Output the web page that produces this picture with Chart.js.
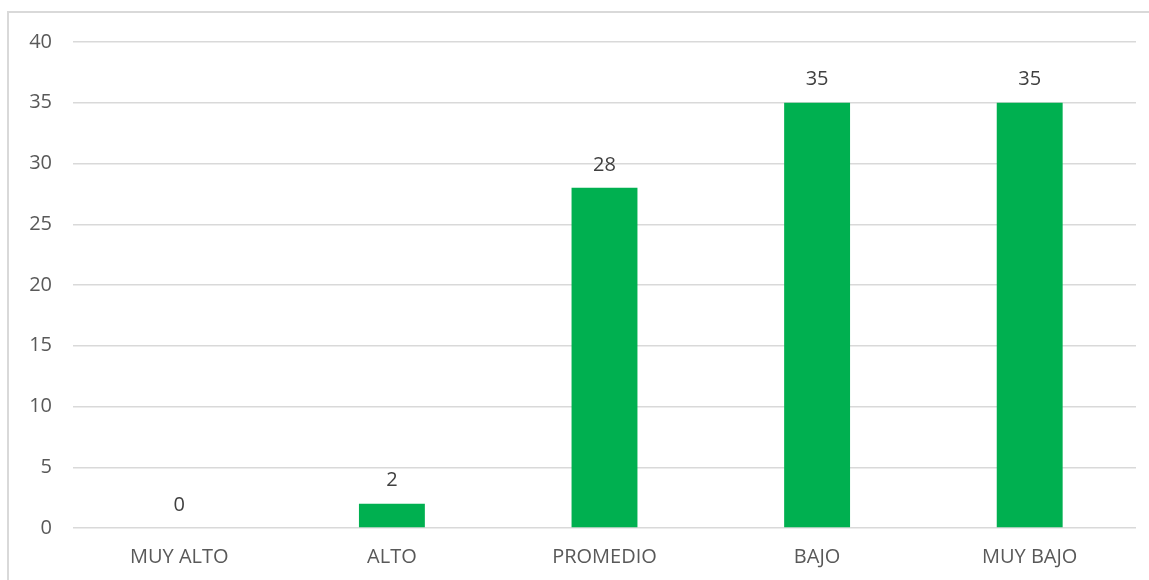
<!DOCTYPE html>
<html>
<head>
<meta charset="utf-8">
<script src="https://cdn.jsdelivr.net/npm/chart.js@4"></script>
<style>
  html, body { margin: 0; padding: 0; background: #fff; }
  #wrap { width: 1149px; height: 580px; }
</style>
</head>
<body>
<div id="wrap"><canvas id="nivelChart"></canvas></div>
<script>
var categories = ['MUY ALTO', 'ALTO', 'PROMEDIO', 'BAJO', 'MUY BAJO'];
var counts = [0, 2, 28, 35, 35];
var yTicks = [0, 5, 10, 15, 20, 25, 30, 35, 40];

var barGreen = '#00B050';
var gridGray = '#d9d9d9';
var textGray = '#595959';
var fontFamily = "'Open Sans', 'Noto Sans', sans-serif";

// outer frame of the chart box (left and top edge)
var framePlugin = {
  id: 'frame',
  beforeDraw: function(chart) {
    var ctx = chart.ctx;
    ctx.save();
    ctx.strokeStyle = gridGray;
    ctx.lineWidth = 2;
    ctx.beginPath();
    ctx.moveTo(8, chart.height);
    ctx.lineTo(8, 12);
    ctx.lineTo(chart.width, 12);
    ctx.stroke();
    ctx.restore();
  }
};

// value written above each bar
var valueLabels = {
  id: 'valueLabels',
  afterDatasetsDraw: function(chart) {
    var ctx = chart.ctx;
    var meta = chart.getDatasetMeta(0);
    ctx.save();
    ctx.fillStyle = '#404040';
    ctx.font = '20px ' + fontFamily;
    ctx.textAlign = 'center';
    ctx.textBaseline = 'middle';
    meta.data.forEach(function(bar, i) {
      ctx.fillText(String(counts[i]), bar.x, bar.y - 23);
    });
    ctx.restore();
  }
};

new Chart(document.getElementById('nivelChart'), {
  type: 'bar',
  data: {
    labels: categories,
    datasets: [{
      data: counts,
      backgroundColor: barGreen,
      borderWidth: 0,
      barPercentage: 0.62,
      categoryPercentage: 0.5
    }]
  },
  options: {
    responsive: true,
    maintainAspectRatio: false,
    animation: false,
    layout: { padding: { top: 42, right: 13, left: 0, bottom: 0 } },
    plugins: {
      legend: { display: false },
      tooltip: { enabled: false }
    },
    scales: {
      x: {
        grid: { display: false, drawTicks: false },
        border: { display: false },
        ticks: {
          color: textGray,
          font: { family: fontFamily, size: 20 },
          padding: 17
        },
        afterFit: function(scale) { scale.height = 52; }
      },
      y: {
        min: 0,
        max: 40,
        afterBuildTicks: function(scale) {
          scale.ticks = yTicks.map(function(v) { return { value: v }; });
        },
        grid: { color: gridGray, lineWidth: 1.5, drawTicks: false },
        border: { display: false },
        ticks: {
          color: textGray,
          font: { family: fontFamily, size: 20 },
          padding: 21
        },
        afterFit: function(scale) { scale.width = 73; }
      }
    }
  },
  plugins: [framePlugin, valueLabels]
});
</script>
</body>
</html>
